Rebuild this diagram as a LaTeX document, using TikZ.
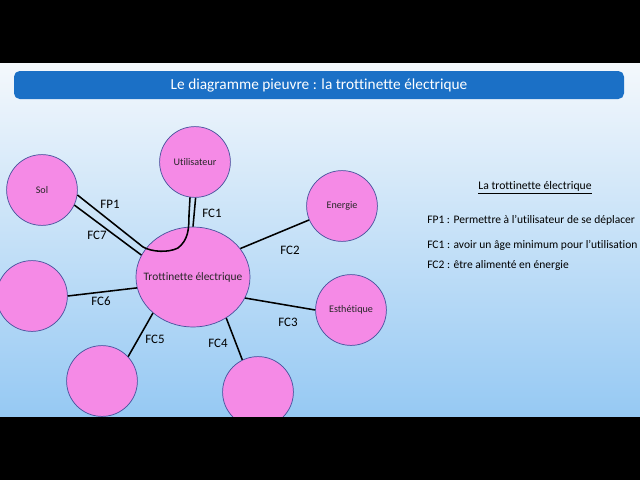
\documentclass[tikz,border=0pt]{standalone}
\usepackage{fontspec}
\setmainfont{Carlito}[Ligatures=NoCommon]
\usetikzlibrary{shapes.geometric}

\definecolor{bandeau}{HTML}{1B70C6}
\definecolor{rose}{HTML}{F58AE6}
\definecolor{contour}{HTML}{45529C}
\definecolor{fondhaut}{HTML}{F4F8FC}
\definecolor{fondmilieu}{HTML}{82BDEE}
\definecolor{fondbas}{HTML}{96C9F3}

\tikzset{
  bulle/.style={circle, draw=contour, fill=rose, line width=0.5pt, minimum size=1.77cm,
    inner sep=0pt, text=black!85, font=\fontsize{7.2}{8}\selectfont},
  lien/.style={line width=1.1pt},
  etiq/.style={inner sep=0pt, font=\fontsize{9.2}{11}\selectfont},
  ligne/.style={anchor=west, inner sep=0pt, font=\fontsize{8.2}{10}\selectfont}
}

\begin{document}
\begin{tikzpicture}[x=0.025cm, y=-0.025cm]
    \useasboundingbox (0,0) rectangle (640,480);
    \fill[black] (0,0) rectangle (640,480);

    \begin{scope}
        \clip (0,63) rectangle (640,416);
        \shade[top color=fondhaut, middle color=fondmilieu, bottom color=fondbas] (0,63) rectangle (640,416);

        % bandeau du titre
        \fill[bandeau, rounded corners=4] (14,71) rectangle (624,99);
        \node[text=white, font=\fontsize{10.9}{13}\selectfont] (titre) at (319,85) {Le diagramme pieuvre : la trottinette électrique};

        % les bulles
        \node[ellipse, draw=contour, fill=rose, line width=0.5pt, minimum width=2.85cm, minimum height=2.5cm,
            inner sep=0pt, label={[text=black!85, font=\fontsize{8.1}{9}\selectfont]center:Trottinette électrique}] (tt) at (193,277) {};
        \node[bulle] (sol) at (42,190) {Sol};
        \node[bulle] (util) at (195,162) {Utilisateur};
        \node[bulle] (ener) at (342,206) {Energie};
        \node[bulle] (esth) at (351,310) {Esthétique};
        \node[bulle] (b4) at (258,392) {};
        \node[bulle] (b5) at (102,381) {};
        \node[bulle] (b6) at (32,296) {};

        % fonction principale (passe par la trottinette)
        \coordinate (p1) at (143,247);
        \coordinate (p2) at (178,248);
        \coordinate (p3) at (189,215);
        \draw[lien] (sol.-8) -- (p1) .. controls (152,252) and (168,253) .. (p2)
            .. controls (188,240) and (189,230) .. (p3) -- (util.-98);

        % fonctions contraintes
        \draw[lien] (util.-89) -- (tt.90);
        \draw[lien] (sol.-25) -- (tt.157);
        \draw[lien] (tt.31) -- (ener.203);
        \draw[lien] (tt.-22) -- (esth.180);
        \draw[lien] (tt.-51) -- (b4.116);
        \draw[lien] (tt.-138) -- (b5.43);
        \draw[lien] (tt.191) -- (b6.0);

        \node[etiq] (lfp1) at (110,204) {FP1};
        \node[etiq] (lfc7) at (97,235) {FC7};
        \node[etiq] (lfc1) at (212,213) {FC1};
        \node[etiq] (lfc2) at (290,250) {FC2};
        \node[etiq] (lfc3) at (288,322) {FC3};
        \node[etiq] (lfc4) at (218,343) {FC4};
        \node[etiq] (lfc5) at (155,339) {FC5};
        \node[etiq] (lfc6) at (101,301) {FC6};

        % texte de droite
        \node[inner sep=0pt, font=\fontsize{8.3}{10}\selectfont] (soustitre) at (535,188) {\underline{La trottinette électrique}};
        \node[ligne] (tfp1) at (427,220) {FP1 : Permettre à l’utilisateur de se déplacer};
        \node[ligne] (tfc1) at (427,245) {FC1 : avoir un âge minimum pour l’utilisation};
        \node[ligne] (tfc2) at (427,265) {FC2 : être alimenté en énergie};
    \end{scope}
\end{tikzpicture}
\end{document}
